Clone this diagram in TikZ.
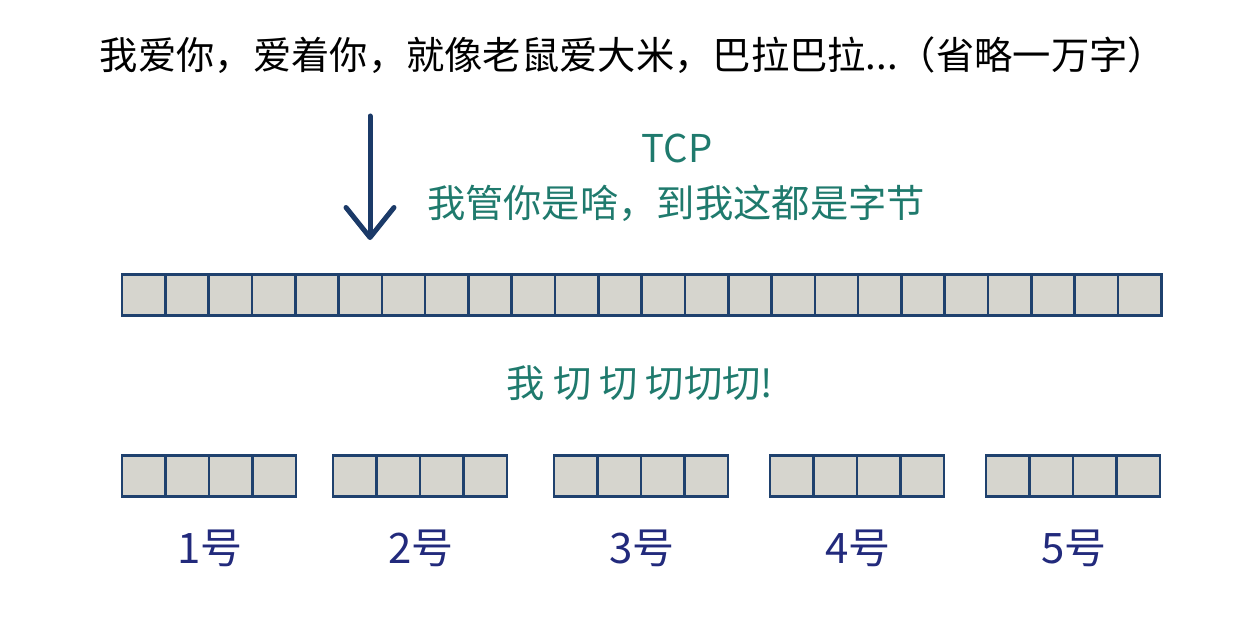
\documentclass[tikz,border=0pt]{standalone}
\usepackage{fontspec}
\setmainfont{Noto Sans CJK SC}
\usetikzlibrary{arrows.meta,positioning}

\definecolor{boxline}{HTML}{1F416E}
\definecolor{boxfill}{HTML}{D6D5CE}
\definecolor{arrowblue}{HTML}{1B3A68}
\definecolor{tealtext}{HTML}{1F7A6D}
\definecolor{numblue}{HTML}{222A7C}

\begin{document}
\begin{tikzpicture}
    [
      x=1pt, y=-1pt,
      cell/.style = {draw=boxline, fill=boxfill, line width=2.6pt, minimum width=43.3pt,
                     minimum height=41pt, inner sep=0pt, outer sep=0pt},
      title/.style = {font=\fontsize{38.3}{44}\selectfont, inner sep=0pt},
      tcptext/.style = {title, text=tealtext},
      numlabel/.style = {title, font=\fontsize{42}{48}\selectfont, text=numblue},
      bigarrow/.style = {draw=arrowblue, line width=5pt, line cap=round,
                         -{Straight Barb[length=30pt,width=48pt,line width=5pt,round]}},
    ]
    \useasboundingbox (0,0) rectangle (1255,623);

    % sentence on top
    \node[title] (msg) at (633,55) {我爱你，爱着你，就像老鼠爱大米，巴拉巴拉...（省略一万字）};

    % arrow down into the byte stream
    \coordinate (arrtop) at (370,116);
    \coordinate (arrtip) at (370,240);
    \draw[bigarrow] (arrtop) -- (arrtip);

    \node[tcptext] (tcp) at (677,148) {TCP};
    \node[tcptext] (bytes) at (676,203) {我管你是啥，到我这都是字节};

    % the byte stream
    \foreach \i in {1,...,24}
      \node[cell] (s\i) at ({122+43.3*(\i-0.5)},295) {};

    \node[tcptext] (cut) at (640,383) {我\hspace{8pt}切\hspace{8pt}切\hspace{8pt}切切切!};

    % the pieces
    \foreach \g/\x in {1/122,2/333,3/554,4/770,5/986} {
      \foreach \i in {1,...,4}
        \node[cell] (g\g c\i) at ({\x+43.5*(\i-0.5)},476) {};
      \node[numlabel] (n\g) at ({\x+88},548) {{\g}号};
    }
\end{tikzpicture}
\end{document}
